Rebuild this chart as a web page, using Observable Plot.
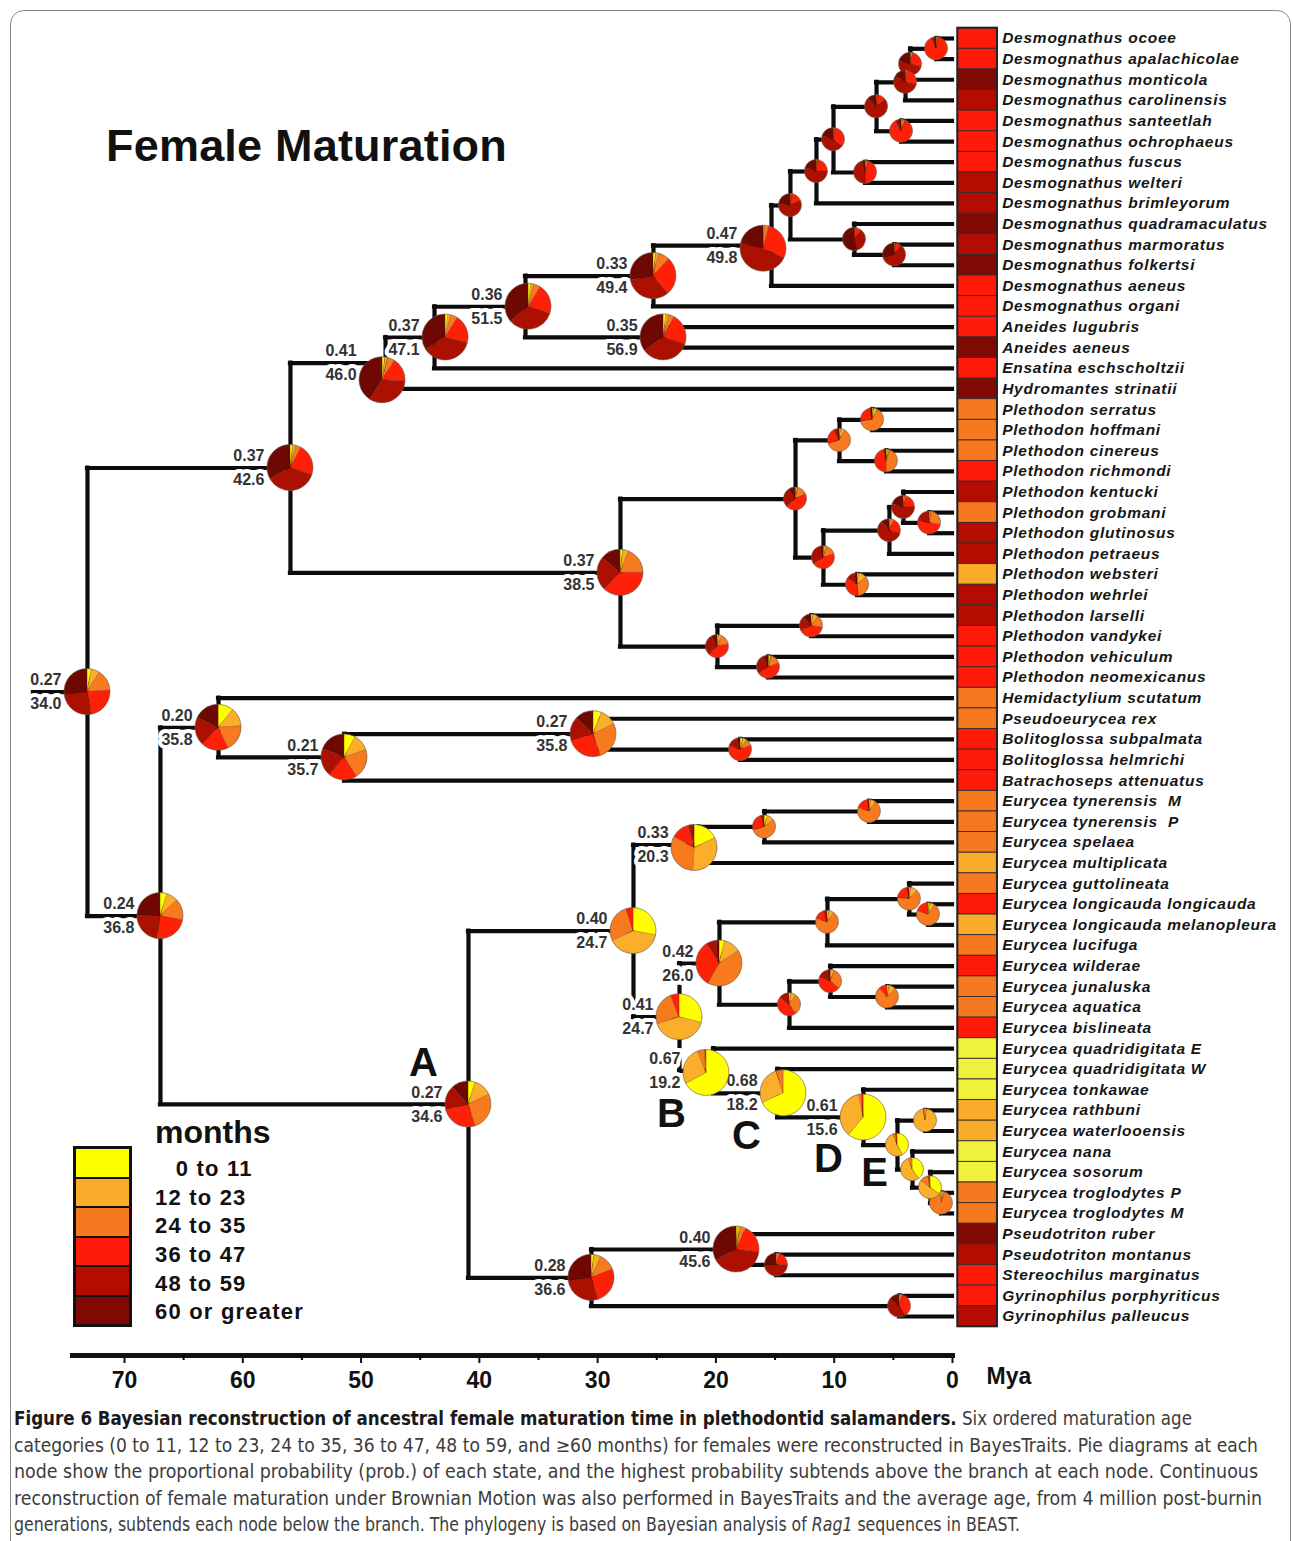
<!DOCTYPE html>
<html>
<head>
<meta charset="utf-8">
<script src="https://cdn.jsdelivr.net/npm/d3@7"></script>
<script src="https://cdn.jsdelivr.net/npm/@observablehq/plot@0.6"></script>
<style>
  html, body { margin: 0; padding: 0; background: #fff; }
  #wrap { position: relative; width: 1293px; height: 1541px; overflow: hidden; font-family: "Liberation Sans", Arial, Helvetica, sans-serif; }
  #frame { position: absolute; left: 10px; top: 10px; width: 1281px; height: 1600px; border: 1.5px solid #8a8a8a; border-radius: 14px; box-sizing: border-box; }
  #chart { position: absolute; left: 0; top: 0; }
  #title { position: absolute; left: 106px; top: 123px; font-weight: bold; font-size: 45px; line-height: 1; color: #111; white-space: nowrap; letter-spacing: 0.2px; }
  #legend-title { position: absolute; left: 155px; top: 1116px; font-weight: bold; font-size: 32px; line-height: 1; color: #111; }
  #legend-boxes { position: absolute; left: 73px; top: 1146px; width: 59px; border: 3px solid #111; box-sizing: border-box; }
  .lbox { height: 27.5px; border-bottom: 2px solid #111; }
  .lbox:last-child { border-bottom: none; }
  #legend-labels { position: absolute; left: 155px; top: 1155px; }
  .llab { font-weight: bold; font-size: 22px; line-height: 28.7px; height: 28.7px; color: #111; white-space: nowrap; letter-spacing: 1.2px; }
  #caption { position: absolute; left: 14px; top: 1405px; }
  .cap-line { white-space: nowrap; font-size: 19px; line-height: 26.5px; height: 26.5px; transform-origin: 0 50%; color: #3c3c3c;
    font-family: "Liberation Sans Narrow", "DejaVu Sans Condensed", "Roboto Condensed", "Liberation Sans", sans-serif; font-stretch: condensed; width: max-content; }
  .cap-line b { color: #1a1a1a; }
</style>
</head>
<body>
<div id="wrap">
  <div id="frame"></div>
  <div id="chart"></div>
  <div id="title"></div>
  <div id="legend-title"></div>
  <div id="legend-boxes"></div>
  <div id="legend-labels"></div>
  <div id="caption"></div>
</div>
<script>
// ---------------- DATA ----------------
const species = [
  "Desmognathus ocoee","Desmognathus apalachicolae","Desmognathus monticola","Desmognathus carolinensis",
  "Desmognathus santeetlah","Desmognathus ochrophaeus","Desmognathus fuscus","Desmognathus welteri",
  "Desmognathus brimleyorum","Desmognathus quadramaculatus","Desmognathus marmoratus","Desmognathus folkertsi",
  "Desmognathus aeneus","Desmognathus organi","Aneides lugubris","Aneides aeneus","Ensatina eschscholtzii",
  "Hydromantes strinatii","Plethodon serratus","Plethodon hoffmani","Plethodon cinereus","Plethodon richmondi",
  "Plethodon kentucki","Plethodon grobmani","Plethodon glutinosus","Plethodon petraeus","Plethodon websteri",
  "Plethodon wehrlei","Plethodon larselli","Plethodon vandykei","Plethodon vehiculum","Plethodon neomexicanus",
  "Hemidactylium scutatum","Pseudoeurycea rex","Bolitoglossa subpalmata","Bolitoglossa helmrichi",
  "Batrachoseps attenuatus","Eurycea tynerensis\u00a0 M","Eurycea tynerensis\u00a0 P","Eurycea spelaea",
  "Eurycea multiplicata","Eurycea guttolineata","Eurycea longicauda longicauda","Eurycea longicauda melanopleura",
  "Eurycea lucifuga","Eurycea wilderae","Eurycea junaluska","Eurycea aquatica","Eurycea bislineata",
  "Eurycea quadridigitata E","Eurycea quadridigitata W","Eurycea tonkawae","Eurycea rathbuni",
  "Eurycea waterlooensis","Eurycea nana","Eurycea sosorum","Eurycea troglodytes P","Eurycea troglodytes M",
  "Pseudotriton ruber","Pseudotriton montanus","Stereochilus marginatus","Gyrinophilus porphyriticus",
  "Gyrinophilus palleucus"
];
// observed state of each tip (0: 0-11, 1: 12-23, 2: 24-35, 3: 36-47, 4: 48-59, 5: >=60 months)
const tipState = [3,3,5,4,3,3,3,4,4,5,4,5,3,3,3,5,3,5,
  2,2,2,3,4,2,4,4,1,4,4,3,3,3,
  2,2,3,3,3,
  2,2,2,1,2,3,1,2,3,2,2,3,0,0,0,1,1,0,0,2,2,
  5,4,3,3,4];

const stateLabels = ["0 to 11","12 to 23","24 to 35","36 to 47","48 to 59","60 or greater"];
const stateColors = ["#FFFF00","#FAAE2A","#F87A1E","#FF2008","#AC1000","#6E0803"];
const stripColors = ["#EEF23C","#F9AC2A","#F7791F","#FF1A0A","#B40C00","#800903"];
const legendColors = ["#FFFF00","#F9AC2A","#F7791F","#FF1A0A","#B40C00","#800903"];

// internal nodes: id, children (tip index or node id), age (Mya), state probabilities
const nodeIds = ["a","b","c","e","d","g","f","h","k","j","i","l","m","n","o","p","q",
  "cc","dd","aa","hh","gg","ee","ff","bb","y","ii","jj","z","s","r",
  "x","w","v","u",
  "J","I","G","P","O","M","R","Q","N","K","Y","X","W","V","U","T","S","L","H","B",
  "F","D","E","C","A","t","root"];
const nodeKids = [[0,1],["a",2],["b",3],[4,5],["c","e"],[6,7],["d","g"],["f",8],[10,11],[9,"k"],["h","j"],["i",12],["l",13],[14,15],["m","n"],["o",16],["p",17],
  [18,19],[20,21],["cc","dd"],[23,24],[22,"hh"],["gg",25],[26,27],["ee","ff"],["aa","bb"],[28,29],[30,31],["ii","jj"],["y","z"],["q","s"],
  [34,35],[33,"x"],["w",36],[32,"v"],
  [37,38],["J",39],["I",40],[42,43],[41,"P"],["O",44],[46,47],[45,"R"],["Q",48],["M","N"],[56,57],[55,"Y"],[54,"X"],[52,53],["V","W"],[51,"U"],[50,"T"],[49,"S"],["K","L"],["G","H"],
  [59,60],[58,"F"],[61,62],["D","E"],["B","C"],["u","A"],["r","t"]];
const nodeAge = [1.35,3.55,3.97,4.31,6.42,7.35,10.06,11.5,4.9,8.29,13.7,15.3,25.28,24.43,36.1,43.79,47.93,
  6.76,5.58,9.55,1.94,4.14,5.33,8.03,10.91,13.27,11.92,15.56,19.87,28.07,55.97,
  17.92,30.35,51.4,62.05,
  7.02,15.89,21.47,2.03,3.64,10.57,5.5,10.31,13.78,19.7,0.93,1.86,3.38,2.28,4.65,7.52,14.79,20.21,23.08,26.97,
  14.88,18.26,4.48,30.52,40.92,66.96,73.13];
const nodeProb = [
  [0,0,.03,.90,.05,.02],[0,.01,.03,.25,.50,.21],[0,.01,.02,.25,.55,.17],[0,.02,.04,.85,.06,.03],[0,0,.02,.12,.73,.13],
  [0,.02,.03,.45,.45,.05],[0,.01,.02,.32,.45,.20],[0,.01,.02,.22,.55,.20],[0,0,.02,.08,.60,.30],[0,0,.01,.09,.35,.55],
  [0,.01,.02,.15,.60,.22],[.005,.005,.03,.28,.47,.21],[.02,.02,.08,.27,.33,.28],[.02,.02,.04,.22,.35,.35],[.02,.02,.05,.21,.34,.36],
  [.02,.02,.05,.20,.37,.34],[.02,.02,.05,.17,.33,.41],
  [.02,.06,.65,.23,.03,.01],[.02,.03,.45,.47,.02,.01],[.02,.06,.62,.22,.06,.02],[0,.03,.25,.50,.22,0],[0,.02,.03,.20,.55,.20],
  [0,.02,.05,.22,.60,.11],[.02,.12,.35,.35,.12,.04],[.01,.04,.15,.45,.30,.05],[.01,.03,.14,.45,.27,.10],[.03,.07,.18,.40,.20,.12],
  [.01,.04,.15,.45,.28,.07],[.02,.05,.15,.40,.30,.08],[.02,.04,.19,.37,.24,.14],[.02,.02,.04,.22,.37,.33],
  [.04,.06,.10,.60,.15,.05],[.06,.12,.27,.25,.17,.13],[.08,.12,.21,.20,.20,.19],[.11,.13,.19,.19,.20,.18],
  [.02,.08,.70,.18,.02,0],[.05,.10,.55,.25,.05,0],[.18,.33,.32,.13,.03,.01],[.02,.08,.70,.20,0,0],[.02,.10,.65,.20,.03,0],
  [.03,.07,.70,.15,.05,0],[.03,.10,.75,.12,0,0],[0,.06,.30,.45,.15,.04],[.03,.07,.30,.45,.15,0],[.04,.12,.42,.33,.07,.02],
  [.02,.03,.95,0,0,0],[.35,.50,.12,.03,0,0],[.40,.55,.05,0,0,0],[.02,.95,.03,0,0,0],[.42,.52,.04,.02,0,0],
  [.61,.36,.02,.01,0,0],[.68,.27,.05,0,0,0],[.67,.27,.05,.01,0,0],[.29,.41,.24,.06,0,0],[.28,.40,.27,.05,0,0],
  [0,0,.05,.20,.50,.25],[.01,.02,.04,.20,.40,.33],[0,0,.05,.35,.45,.15],[.02,.05,.12,.26,.28,.27],[.05,.13,.27,.26,.17,.12],
  [.05,.08,.15,.24,.24,.24],[.03,.06,.15,.23,.26,.27]];

// labelled nodes: highest probability (above) and mean continuous age in months (below)
const labelNode = ["root","r","q","p","o","m","n","l","s","t","u","v","w","A","C","D","B","G","H","K","L","S","T"];
const labelProb = ["0.27","0.37","0.41","0.37","0.36","0.33","0.35","0.47","0.37","0.24","0.20","0.21","0.27","0.27","0.28","0.40","0.40","0.33","0.41","0.42","0.67","0.68","0.61"];
const labelMean = ["34.0","42.6","46.0","47.1","51.5","49.4","56.9","49.8","38.5","36.8","35.8","35.7","35.8","34.6","36.6","45.6","24.7","20.3","24.7","26.0","19.2","18.2","15.6"];

const cladeLetter = ["A","B","C","D","E"];
const cladeNode = ["A","L","S","T","U"];

const rootStemAge = 77.7;
const axisTicks = [70,60,50,40,30,20,10,0];
const axisMinorTicks = [65,55,45,35,25,15,5];

// ---------------- STYLE (pixel nudges of pies, letter offsets) ----------------
const pieShift = {q: [-3, 17], p: [11, 0], o: [3, 0], l: [-8, 3], L: [-7, 2], S: [6, 0], G: [-4, 3]};
const letterStyle = {A: [-45, -41], B: [-42, 43], C: [-31, 43], D: [-35, 42], E: [-23, 28]};

// ---------------- BUILD ----------------
const kidsOf = new Map(nodeIds.map((id, k) => [id, nodeKids[k]]));
const ageOf = new Map(nodeIds.map((id, k) => [id, nodeAge[k]]));
const yOf = new Map();
function nodeY(c) {
  if (typeof c === "number") return c;
  if (yOf.has(c)) return yOf.get(c);
  const ks = kidsOf.get(c).map(nodeY);
  const v = (Math.min(...ks) + Math.max(...ks)) / 2;
  yOf.set(c, v);
  return v;
}
const nodeA = c => typeof c === "number" ? 0 : ageOf.get(c);

const labelSet = new Set(labelNode);
const nodeRows = nodeIds.map((id, k) => ({id, age: nodeAge[k], y: nodeY(id), probs: nodeProb[k], big: labelSet.has(id)}));
const rowOf = new Map(nodeRows.map(d => [d.id, d]));

const vSegs = [], hSegs = [];
for (const d of nodeRows) {
  const ys = kidsOf.get(d.id).map(nodeY);
  vSegs.push({x: d.age, y1: Math.min(...ys), y2: Math.max(...ys)});
  for (const c of kidsOf.get(d.id)) hSegs.push({y: nodeY(c), x1: d.age, x2: nodeA(c)});
}
const rootRow = rowOf.get("root");
hSegs.push({y: rootRow.y, x1: rootStemAge, x2: rootRow.age});

const tipRows = species.map((name, i) => ({i, name, state: tipState[i]}));
const labelRows = labelNode.map((id, k) => ({...rowOf.get(id), prob: labelProb[k], mean: labelMean[k]}));

const labelMarks = labelRows.flatMap(row => {
  const sh = pieShift[row.id] || [0, 0];
  const common = {x: "age", y: "y", textAnchor: "end", fontSize: 16, fontWeight: "bold", fill: "#333",
    stroke: "white", strokeWidth: 8, strokeLinejoin: "round", dx: -26 + sh[0]};
  return [
    Plot.text([row], {...common, text: "prob", dy: -12}),
    Plot.text([row], {...common, text: "mean", dy: 12})
  ];
});

const letterMarks = cladeLetter.map((L, k) => {
  const row = rowOf.get(cladeNode[k]);
  return Plot.text([{...row, L}], {x: "age", y: "y", text: "L", dx: letterStyle[L][0], dy: letterStyle[L][1],
    fontSize: 40, fontWeight: "bold", fill: "#111", textAnchor: "middle"});
});

const pieLayout = d3.pie().sort(null).value(d => d);

const plot = Plot.plot({
  width: 1293,
  height: 1400,
  marginLeft: 72,
  marginRight: 341,
  marginTop: 0,
  marginBottom: 45,
  style: {fontFamily: '"Liberation Sans", Arial, sans-serif', background: "transparent"},
  x: {domain: [70, 0], range: [124, 952]},
  y: {domain: [0, 62], range: [38, 1316], axis: null},
  marks: [
    Plot.frame({anchor: "bottom", stroke: "#111", strokeWidth: 5}),
    Plot.axisX({ticks: axisMinorTicks, tickSize: 5, tickFormat: () => "", label: null, strokeWidth: 2}),
    Plot.axisX({ticks: axisTicks, tickSize: 8, tickPadding: 8, tickFormat: d => String(d), label: null,
      fontSize: 23, fontWeight: "bold", strokeWidth: 2, color: "#111"}),
    Plot.text(["Mya"], {frameAnchor: "bottom-right", dx: 34, dy: 28, textAnchor: "start", fontSize: 23, fontWeight: "bold", fill: "#111"}),
    Plot.ruleY(hSegs, {y: "y", x1: "x1", x2: "x2", stroke: "#0c0c0c", strokeWidth: 4.2, strokeLinecap: "square"}),
    Plot.ruleX(vSegs, {x: "x", y1: "y1", y2: "y2", stroke: "#0c0c0c", strokeWidth: 4.2, strokeLinecap: "square"}),
    Plot.rect(tipRows, {x1: -0.45, x2: -3.8, y1: d => d.i - 0.5, y2: d => d.i + 0.5, fill: d => stripColors[d.state], stroke: "#3a2a2a", strokeWidth: 0.9}),
    Plot.rect([0], {x1: -0.45, x2: -3.8, y1: -0.5, y2: 62.5, fill: "none", stroke: "#222", strokeWidth: 2}),
    Plot.text(tipRows, {x: -4.2, y: "i", text: "name", textAnchor: "start", fontSize: 15.5, fontWeight: "bold", fontStyle: "italic", fill: "#161616"}),
    ...labelMarks,
    Plot.dot(nodeRows, {
      x: "age", y: "y",
      render(index, scales, values) {
        const g = d3.create("svg:g");
        for (const i of index) {
          const d = nodeRows[i];
          const r = d.big ? 23 : 11.5;
          const sh = pieShift[d.id] || [0, 0];
          const gg = g.append("g").attr("transform", `translate(${values.x[i] + sh[0]},${values.y[i] + sh[1]})`);
          const arc = d3.arc().innerRadius(0).outerRadius(r);
          gg.selectAll("path").data(pieLayout(d.probs).filter(a => a.value > 0)).join("path")
            .attr("d", arc).attr("fill", a => stateColors[a.index])
            .attr("stroke", "rgba(60,30,10,0.35)").attr("stroke-width", 0.6);
          gg.append("circle").attr("r", r).attr("fill", "none").attr("stroke", "rgba(120,110,100,0.55)").attr("stroke-width", 0.9);
        }
        return g.node();
      }
    }),
    ...letterMarks
  ]
});
document.getElementById("chart").appendChild(plot);

const nameSet = new Set(species);
d3.select(plot).selectAll("text").filter(function () { return nameSet.has(this.textContent); }).attr("letter-spacing", "0.75");

// Title & legend
document.getElementById("title").textContent = "Female Maturation";
document.getElementById("legend-title").textContent = "months";
const lb = d3.select("#legend-boxes");
legendColors.forEach(c => lb.append("div").attr("class", "lbox").style("background", c));
const ll = d3.select("#legend-labels");
stateLabels.forEach((t, k) => ll.append("div").attr("class", "llab").text(k === 0 ? "\u2007 " + t : t));

// Caption
const captionBold = "Figure 6 Bayesian reconstruction of ancestral female maturation time in plethodontid salamanders.";
const captionLines = [
  " Six ordered maturation age",
  "categories (0 to 11, 12 to 23, 24 to 35, 36 to 47, 48 to 59, and \u226560 months) for females were reconstructed in BayesTraits. Pie diagrams at each",
  "node show the proportional probability (prob.) of each state, and the highest probability subtends above the branch at each node. Continuous",
  "reconstruction of female maturation under Brownian Motion was also performed in BayesTraits and the average age, from 4 million post-burnin",
  "generations, subtends each node below the branch. The phylogeny is based on Bayesian analysis of |Rag1| sequences in BEAST."
];
const captionWidths = [1178, 1244, 1244, 1248, 1006];
const cap = d3.select("#caption");
captionLines.forEach((t, k) => {
  const div = cap.append("div").attr("class", "cap-line");
  if (k === 0) { div.append("b").text(captionBold); div.append("span").text(t); }
  else {
    const parts = t.split("|");
    parts.forEach((p, j) => { if (j % 2) div.append("i").text(p); else div.append("span").text(p); });
  }
  const w = div.node().getBoundingClientRect().width;
  div.style("transform", `scaleX(${captionWidths[k] / w})`);
});
</script>
</body>
</html>
